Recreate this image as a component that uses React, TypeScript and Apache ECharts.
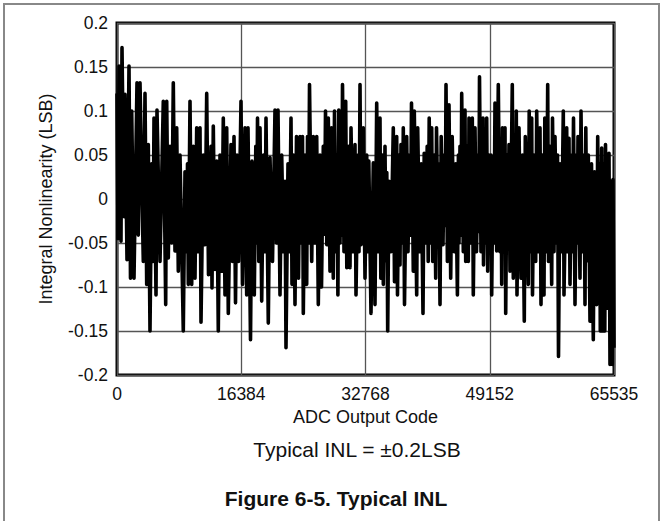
import React, { useEffect, useRef } from "react";
import * as echarts from "echarts";

const codes: number[] = [
  0, 132, 264, 527, 659, 923, 1055, 1319, 1582, 1780,
  1938, 2242, 2637, 2809, 3033, 3468, 3692, 3916, 4127, 4351,
  4576, 4747, 4879, 5143, 5274, 5670, 6105, 6421, 6554, 6764,
  6989, 7213, 7424, 7648, 7872, 8083, 8307, 8742, 8966, 9191,
  9296, 9402, 9626, 9850, 10061, 10285, 10509, 10720, 10944, 11076,
  11380, 11604, 11828, 12065, 12395, 12527, 12698, 12922, 13146, 13357,
  13582, 13806, 14017, 14241, 14465, 14676, 15032, 15230, 15428, 15626,
  15823, 16021, 16351, 16549, 16878, 17103, 17274, 17604, 17801, 18105,
  18302, 18421, 18527, 18698, 18856, 19080, 19317, 19515, 19647, 19950,
  20174, 20504, 20834, 21032, 21229, 21493, 21717, 21955, 22152, 22284,
  22548, 22746, 22944, 23076, 23273, 23471, 23669, 23933, 24130, 24328,
  24460, 24566, 24790, 25014, 25120, 25252, 25384, 25674, 25885, 26109,
  26333, 26544, 26768, 26966, 27203, 27362, 27493, 27665, 27862, 28086,
  28284, 28521, 28680, 28878, 29010, 29128, 29247, 29405, 29537, 29629,
  29735, 29933, 30157, 30302, 30500, 30724, 30856, 31119, 31383, 31515,
  31779, 31911, 32043, 32175, 32478, 32702, 32927, 33098, 33204, 33492,
  33796, 34020, 34244, 34455, 34679, 34785, 35009, 35115, 35338, 35470,
  35576, 35694, 35866, 36129, 36433, 36591, 36881, 36986, 37184, 37316,
  37448, 37645, 37751, 37910, 38200, 38371, 38569, 38701, 38833, 39070,
  39202, 39518, 39650, 39914, 40112, 40349, 40508, 40706, 40903, 41035,
  41167, 41365, 41497, 41629, 41827, 42024, 42130, 42354, 42420, 42592,
  42750, 42987, 43145, 43277, 43383, 43567, 43778, 44002, 44200, 44464,
  44662, 44886, 45018, 45096, 45228, 45360, 45452, 45663, 45887, 45980,
  46151, 46323, 46415, 46613, 46850, 46982, 47206, 47404, 47601, 47707,
  47800, 47997, 48261, 48327, 48524, 48656, 48749, 48881, 49052, 49184,
  49316, 49408, 49579, 49711, 49843, 50067, 50278, 50502, 50634, 50726,
  50832, 50964, 51162, 51254, 51425, 51557, 51689, 51821, 52124, 52256,
  52415, 52547, 52652, 52744, 53008, 53271, 53469, 53706, 53838, 54234,
  54352, 54524, 54682, 54788, 54986, 55210, 55342, 55580, 55777, 55909,
  56107, 56304, 56410, 56634, 56792, 56898, 57095, 57319, 57425, 57623,
  57755, 57953, 58085, 58217, 58414, 58612, 58850, 58941, 59297, 59403,
  59601, 59733, 59931, 60062, 60194, 60392, 60590, 60682, 60788, 61052,
  61184, 61382, 61579, 61711, 61817, 61974, 62146, 62370, 62568, 62805,
  62964, 63254, 63386, 63531, 63623, 63729, 63913, 64058, 64217, 64322,
  64414, 64611, 64875, 65007, 65139, 65311, 65403, 65535,
];

// Integral nonlinearity (LSB) at each code above
const inl: number[] = [
  0.12, -0.045, 0.151, -0.048, 0.172, -0.02, 0.119, -0.069, 0.151, -0.09,
  0.1, -0.09, 0.132, -0.041, 0.132, -0.071, 0.12, -0.097, 0.062, -0.15,
  0.04, -0.071, 0.092, -0.109, 0.101, -0.071, 0.111, -0.12, 0.111, -0.067,
  0.06, -0.05, 0.132, -0.059, 0.081, -0.082, 0.05, -0.15, 0.031, -0.06,
  0.04, -0.097, 0.111, -0.097, 0.06, -0.09, 0.081, -0.06, 0.081, -0.14,
  0.05, -0.052, 0.12, -0.086, 0.06, -0.101, 0.083, -0.08, 0.043, -0.15,
  0.05, -0.082, 0.092, -0.109, 0.081, -0.13, 0.062, -0.071, 0.071, -0.118,
  0.05, -0.071, 0.111, -0.097, 0.081, -0.109, 0.081, -0.16, 0.043, -0.109,
  0.06, -0.05, 0.092, -0.071, 0.081, -0.116, 0.05, -0.06, 0.092, -0.141,
  0.047, -0.071, 0.101, -0.05, 0.101, -0.109, 0.05, -0.06, 0.02, -0.169,
  0.04, -0.06, 0.092, -0.097, 0.05, -0.12, 0.071, -0.09, 0.071, -0.05,
  0.071, -0.13, 0.05, -0.097, 0.071, -0.05, 0.13, -0.071, 0.071, -0.05,
  0.071, -0.12, 0.05, -0.1, 0.06, -0.04, 0.1, -0.052, 0.092, -0.082,
  0.081, -0.09, 0.1, -0.06, 0.05, -0.109, 0.101, -0.05, 0.06, -0.041,
  0.13, -0.06, 0.111, -0.078, 0.06, -0.078, 0.081, -0.06, 0.062, -0.109,
  0.05, -0.06, 0.13, -0.052, 0.081, -0.09, 0.05, -0.06, 0.043, -0.13,
  0.041, -0.12, 0.109, -0.06, 0.092, -0.09, 0.05, -0.097, 0.06, -0.07,
  0.03, -0.15, 0.02, -0.06, 0.081, -0.094, 0.071, -0.109, 0.05, -0.075,
  0.062, -0.05, 0.081, -0.12, 0.071, -0.06, 0.05, -0.041, 0.109, -0.082,
  0.1, -0.109, 0.081, -0.06, 0.04, -0.13, 0.052, -0.05, 0.06, -0.071,
  0.092, -0.05, 0.081, -0.071, 0.05, -0.09, 0.081, -0.05, 0.04, -0.12,
  0.071, -0.052, 0.05, -0.03, 0.13, -0.071, 0.107, -0.09, 0.071, -0.06,
  0.04, -0.109, 0.05, -0.05, 0.06, -0.041, 0.12, -0.06, 0.101, -0.071,
  0.06, -0.071, 0.092, -0.05, 0.092, -0.109, 0.081, -0.06, 0.05, -0.037,
  0.139, -0.06, 0.092, -0.075, 0.05, -0.05, 0.092, -0.082, 0.05, -0.05,
  0.05, -0.109, 0.04, -0.05, 0.109, -0.059, 0.13, -0.06, 0.05, -0.097,
  0.081, -0.05, 0.081, -0.13, 0.05, -0.05, 0.062, -0.082, 0.13, -0.09,
  0.06, -0.05, 0.1, -0.109, 0.081, -0.09, 0.05, -0.139, 0.071, -0.097,
  0.1, -0.06, 0.092, -0.109, 0.05, -0.071, 0.1, -0.06, 0.081, -0.12,
  0.05, -0.109, 0.092, -0.06, 0.13, -0.071, 0.06, -0.097, 0.092, -0.06,
  0.071, -0.05, 0.05, -0.179, 0.04, -0.06, 0.1, -0.109, 0.081, -0.06,
  0.069, -0.097, 0.05, -0.06, 0.092, -0.12, 0.05, -0.05, 0.071, -0.09,
  0.1, -0.06, 0.05, -0.12, 0.081, -0.07, 0.05, -0.139, 0.04, -0.16,
  0.031, -0.12, 0.071, -0.08, 0.04, -0.15, 0.058, -0.15, 0.04, -0.15,
  0.062, -0.124, 0.052, -0.188, 0.02, -0.188, 0.022, -0.169,
];

const xTicks: number[] = [0, 16384, 32768, 49152, 65535];
const yTickLabels: string[] = ["-0.2", "-0.15", "-0.1", "-0.05", "0", "0.05", "0.1", "0.15", "0.2"];

const xTitle = "ADC Output Code";
const yTitle = "Integral Nonlinearity (LSB)";
const noteText = "Typical INL = \u00b10.2LSB";
const captionText = "Figure 6-5. Typical INL";

const FONT = "'Liberation Sans', Arial, Helvetica, sans-serif";

export default function App() {
  const ref = useRef<HTMLDivElement>(null);

  useEffect(() => {
    document.body.style.margin = "0";
    if (!ref.current) return;
    const chart = echarts.init(ref.current, undefined, { renderer: "svg" });
    const seriesData = codes.map((c, i) => [c, inl[i]]);

    chart.setOption({
      animation: false,
      backgroundColor: "#fff",
      grid: {
        left: 117,
        top: 23,
        width: 497,
        height: 352,
        show: true,
        borderColor: "#000",
        borderWidth: 3,
        backgroundColor: "transparent",
        containLabel: false,
      },
      xAxis: {
        type: "value",
        min: 0,
        max: 65535,
        interval: 16384,
        name: xTitle,
        nameLocation: "middle",
        nameGap: 29,
        nameTextStyle: { fontFamily: FONT, fontSize: 18, color: "#111" },
        axisLine: { show: false },
        axisTick: { show: false },
        axisLabel: {
          fontFamily: FONT,
          fontSize: 17.5,
          color: "#111",
          margin: 10,
          showMinLabel: true,
          showMaxLabel: true,
          formatter: (v: number) => {
            const t = xTicks.find((k) => Math.abs(k - v) < 2);
            return t === undefined ? String(v) : String(t);
          },
        },
        splitLine: { show: true, lineStyle: { color: "#555", width: 1.3 } },
      },
      yAxis: {
        type: "value",
        min: -0.2,
        max: 0.2,
        interval: 0.05,
        name: yTitle,
        nameLocation: "middle",
        nameGap: 62,
        nameRotate: 90,
        nameTextStyle: { fontFamily: FONT, fontSize: 18, color: "#111" },
        axisLine: { show: false },
        axisTick: { show: false },
        axisLabel: {
          fontFamily: FONT,
          fontSize: 17.5,
          color: "#111",
          margin: 9,
          formatter: (v: number) => {
            const s = yTickLabels.find((l) => Math.abs(parseFloat(l) - v) < 1e-6);
            return s === undefined ? String(v) : s;
          },
        },
        splitLine: { show: true, lineStyle: { color: "#555", width: 1.3 } },
      },
      series: [
        {
          type: "line",
          data: seriesData,
          showSymbol: false,
          symbol: "none",
          clip: true,
          lineStyle: { color: "#000", width: 3.6, join: "round", cap: "butt" },
          z: 3,
        },
      ],
      graphic: [
        {
          type: "rect",
          shape: { x: 4, y: 4, width: 655, height: 560 },
          style: { fill: "none", stroke: "#888", lineWidth: 2 },
          silent: true,
          z: -10,
        },
        {
          type: "text",
          x: 357,
          y: 449,
          style: {
            text: noteText,
            fontFamily: FONT,
            fontSize: 21,
            fill: "#111",
            textAlign: "center",
            textVerticalAlign: "middle",
          },
        },
        {
          type: "text",
          x: 336,
          y: 498,
          style: {
            text: captionText,
            fontFamily: FONT,
            fontSize: 21,
            fontWeight: "bold",
            fill: "#111",
            textAlign: "center",
            textVerticalAlign: "middle",
          },
        },
      ],
    });

    return () => {
      chart.dispose();
    };
  }, []);

  return <div ref={ref} style={{ width: 663, height: 521 }} />;
}
